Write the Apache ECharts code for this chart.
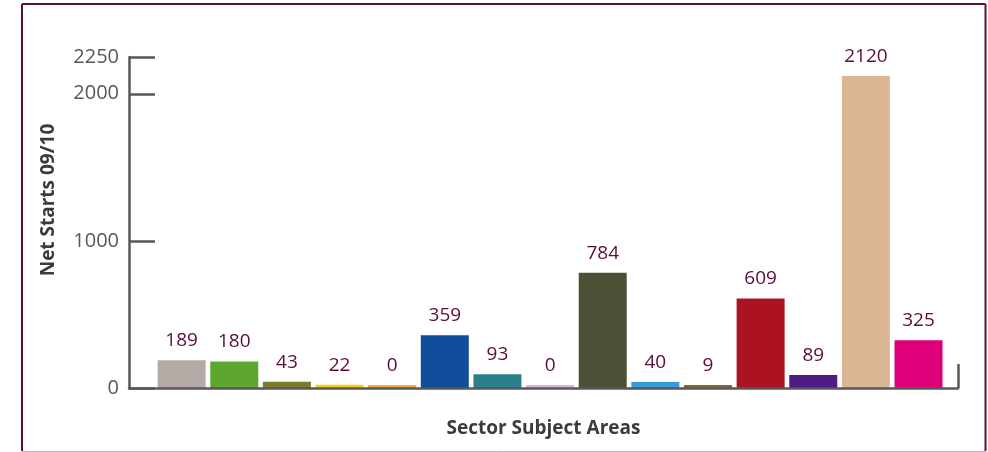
<!DOCTYPE html>
<html>
<head>
<meta charset="utf-8">
<title>Net Starts 09/10 by Sector Subject Area</title>
<script src="https://cdn.jsdelivr.net/npm/echarts@6/dist/echarts.min.js"></script>
<style>
  html, body { margin: 0; padding: 0; background: #ffffff; }
  #chart { width: 988px; height: 452px; }
</style>
</head>
<body>
<div id="chart"></div>
<script>
// Net starts per sector subject area, 2009/10 (one bar per area, left to right)
var netStarts = [189, 180, 43, 22, 0, 359, 93, 0, 784, 40, 9, 609, 89, 2120, 325];
var barColors = [
  '#b3aaa6', '#5ea72e', '#7b7a2a', '#f7d100', '#f2a83a',
  '#114d9b', '#2b7e8e', '#d7b6df', '#4e5036', '#359ad9',
  '#8a6433', '#ab1222', '#511b83', '#dbb694', '#de0079'
];
var yTickValues = [0, 1000, 2000, 2250];
var yAxisTitle = 'Net Starts 09/10';
var xAxisTitle = 'Sector Subject Areas';

var axisGray = '#58585a';
var labelMaroon = '#5c0b3a';
var frameMaroon = '#5b0f3d';

var chart = echarts.init(document.getElementById('chart'), null, { renderer: 'canvas' });

var seriesData = netStarts.map(function (v, i) {
  return { value: [i, v], itemStyle: { color: barColors[i] } };
});

var xMax = netStarts.length - 0.25;

chart.setOption({
  backgroundColor: '#ffffff',
  animation: false,
  grid: { left: 129, right: 30, top: 57, bottom: 64, containLabel: false },
  xAxis: {
    type: 'value',
    min: -1,
    max: xMax,
    name: xAxisTitle,
    nameLocation: 'middle',
    nameGap: 31,
    nameTextStyle: { fontFamily: 'Open Sans', fontWeight: 'bold', fontSize: 19, color: '#3b3b3d' },
    axisLine: { show: true, onZero: false, lineStyle: { color: axisGray, width: 2.5 } },
    axisTick: { show: true, inside: true, length: 24, customValues: [xMax], lineStyle: { color: axisGray, width: 2.5 } },
    axisLabel: { show: false },
    splitLine: { show: false },
    z: 5
  },
  yAxis: {
    type: 'value',
    min: 0,
    max: 2250,
    interval: 250,
    axisLine: { show: true, onZero: false, lineStyle: { color: axisGray, width: 2.5 } },
    axisTick: { show: true, inside: true, length: 26, customValues: yTickValues, lineStyle: { color: axisGray, width: 2.5 } },
    axisLabel: {
      customValues: yTickValues,
      margin: 10,
      fontFamily: 'Open Sans',
      fontSize: 20,
      color: '#58585a',
      formatter: function (v) { return String(v); }
    },
    splitLine: { show: false }
  },
  series: [{
    type: 'bar',
    data: seriesData,
    barWidth: 48,
    barMinHeight: 3,
    label: {
      show: true,
      position: 'top',
      distance: 10,
      fontFamily: 'Open Sans',
      fontSize: 19,
      color: labelMaroon,
      formatter: function (p) { return String(p.value[1]); }
    }
  }],
  graphic: [
    {
      type: 'text',
      x: 49, y: 200,
      rotation: Math.PI / 2,
      style: {
        text: yAxisTitle,
        fontFamily: 'Open Sans',
        fontWeight: 'bold',
        fontSize: 19,
        fill: '#3b3b3d',
        align: 'center',
        verticalAlign: 'middle'
      }
    },
    // outer frame
    { type: 'line', shape: { x1: 22, y1: 4, x2: 985.5, y2: 4 }, style: { stroke: frameMaroon, lineWidth: 2 } },
    { type: 'line', shape: { x1: 22, y1: 4, x2: 22, y2: 451 }, style: { stroke: frameMaroon, lineWidth: 2 } },
    { type: 'line', shape: { x1: 985.5, y1: 4, x2: 985.5, y2: 451 }, style: { stroke: frameMaroon, lineWidth: 2 } },
    { type: 'line', shape: { x1: 22, y1: 451.5, x2: 985.5, y2: 451.5 }, style: { stroke: '#cdb6c4', lineWidth: 1 } }
  ]
});
</script>
</body>
</html>
